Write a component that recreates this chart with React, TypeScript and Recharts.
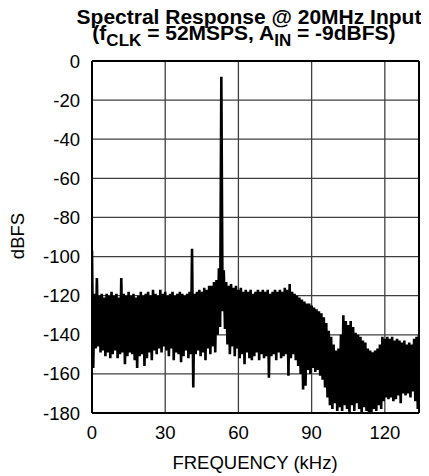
import {
  LineChart,
  Line,
  XAxis,
  YAxis,
  CartesianGrid,
  ReferenceLine,
} from "recharts";

// upper edge of the noise band, one value per kHz (0..134)
const hi = [
  -97, -119, -111, -120, -119, -121, -119, -120, -118, -120,
  -119, -121, -111, -119, -120, -118, -120, -119, -121, -120,
  -118, -120, -119, -118, -120, -117, -119, -120, -117, -119,
  -118, -120, -119, -118, -120, -119, -118, -119, -120, -119,
  -118, -96, -119, -118, -117, -118, -116, -117, -115, -115,
  -113, -112, -106, -8, -107, -113, -115, -114, -116, -115,
  -117, -116, -118, -117, -118, -117, -119, -118, -117, -118,
  -117, -118, -117, -119, -118, -117, -118, -117, -118, -116,
  -117, -114, -118, -119, -120, -121, -122, -123, -124, -124,
  -125, -126, -127, -128, -129, -131, -134, -138, -141, -145,
  -148, -147, -140, -130, -133, -135, -133, -136, -139, -140,
  -141, -143, -144, -147, -148, -149, -148, -147, -145, -141,
  -142, -141, -142, -141, -143, -142, -143, -144, -143, -145,
  -144, -145, -142, -141, -140,
];

// lower edge of the noise band, one value per kHz (0..134)
const lo = [
  -157, -147, -146, -149, -148, -151, -149, -152, -150, -148,
  -152, -150, -149, -155, -151, -149, -150, -153, -157, -151,
  -150, -156, -152, -149, -153, -148, -150, -147, -149, -146,
  -148, -151, -147, -153, -149, -150, -154, -151, -148, -152,
  -150, -167, -150, -148, -151, -149, -153, -147, -150, -146,
  -149, -140, -136, -128, -137, -145, -150, -146, -151, -147,
  -152, -150, -155, -149, -152, -153, -151, -149, -153, -150,
  -152, -151, -162, -151, -150, -153, -149, -152, -151, -150,
  -161, -152, -150, -153, -156, -160, -168, -166, -158, -160,
  -157, -159, -158, -161, -163, -167, -172, -176, -178, -175,
  -179, -177, -179, -176, -178, -180, -176, -179, -175, -178,
  -180, -177, -179, -180, -180, -178, -179, -176, -178, -174,
  -172, -173, -172, -174, -173, -171, -175, -170, -171, -170,
  -172, -169, -174, -178, -179,
];

const xTicks = [0, 30, 60, 90, 120];
const yTicks = [0, -20, -40, -60, -80, -100, -120, -140, -160, -180];

const data: { f: number; v: number }[] = [];
hi.forEach((h, i) => {
  data.push({ f: i, v: h });
  data.push({ f: i + 0.5, v: lo[i] });
});

const font = "'Liberation Sans', Arial, Helvetica, sans-serif";

export default function App() {
  return (
    <div style={{ position: "relative", width: 421, height: 468, fontFamily: font }}>
      <LineChart
        width={421}
        height={468}
        data={data}
        margin={{ top: 53, right: 10, left: 0, bottom: 33 }}
      >
        <CartesianGrid stroke="#404040" strokeWidth={1.3} />
        <XAxis
          dataKey="f"
          type="number"
          domain={[0, 134]}
          ticks={xTicks}
          allowDataOverflow
          height={30}
          tickSize={0}
          tickMargin={13}
          axisLine={{ stroke: "#000", strokeWidth: 2 }}
          tick={{ fill: "#000", fontSize: 18.5, fontFamily: font }}
        />
        <YAxis
          type="number"
          domain={[-180, 0]}
          ticks={yTicks}
          width={84}
          tickSize={0}
          tickMargin={12}
          axisLine={{ stroke: "#000", strokeWidth: 2 }}
          tick={{ fill: "#000", fontSize: 18.5, fontFamily: font }}
        />
        <Line
          dataKey="v"
          type="linear"
          stroke="#000"
          strokeWidth={2.6}
          dot={false}
          isAnimationActive={false}
        />
        <ReferenceLine y={0} stroke="#000" strokeWidth={2} />
        <ReferenceLine x={134} stroke="#000" strokeWidth={2} />
      </LineChart>
      <svg
        width={421}
        height={476}
        style={{ position: "absolute", left: 0, top: -8, pointerEvents: "none" }}
        fontFamily={font}
      >
        <text x={241} y={24} textAnchor="middle" fontSize={21} fontWeight="bold">
          Spectral Response @ 20MHz Input
        </text>
        <text x={236} y={40} textAnchor="middle" fontSize={21} fontWeight="bold">
          (f
          <tspan fontSize={17} dy={6}>CLK</tspan>
          <tspan dy={-6}> = 52MSPS, A</tspan>
          <tspan fontSize={17} dy={6}>IN</tspan>
          <tspan dy={-6}> = -9dBFS)</tspan>
        </text>
        <text
          x={16}
          y={236}
          textAnchor="middle"
          fontSize={18.5}
          transform="rotate(-90, 16, 236)"
        >
          dBFS
        </text>
        <text x={247} y={469} textAnchor="middle" fontSize={18.5}>
          FREQUENCY (kHz)
        </text>
      </svg>
    </div>
  );
}
